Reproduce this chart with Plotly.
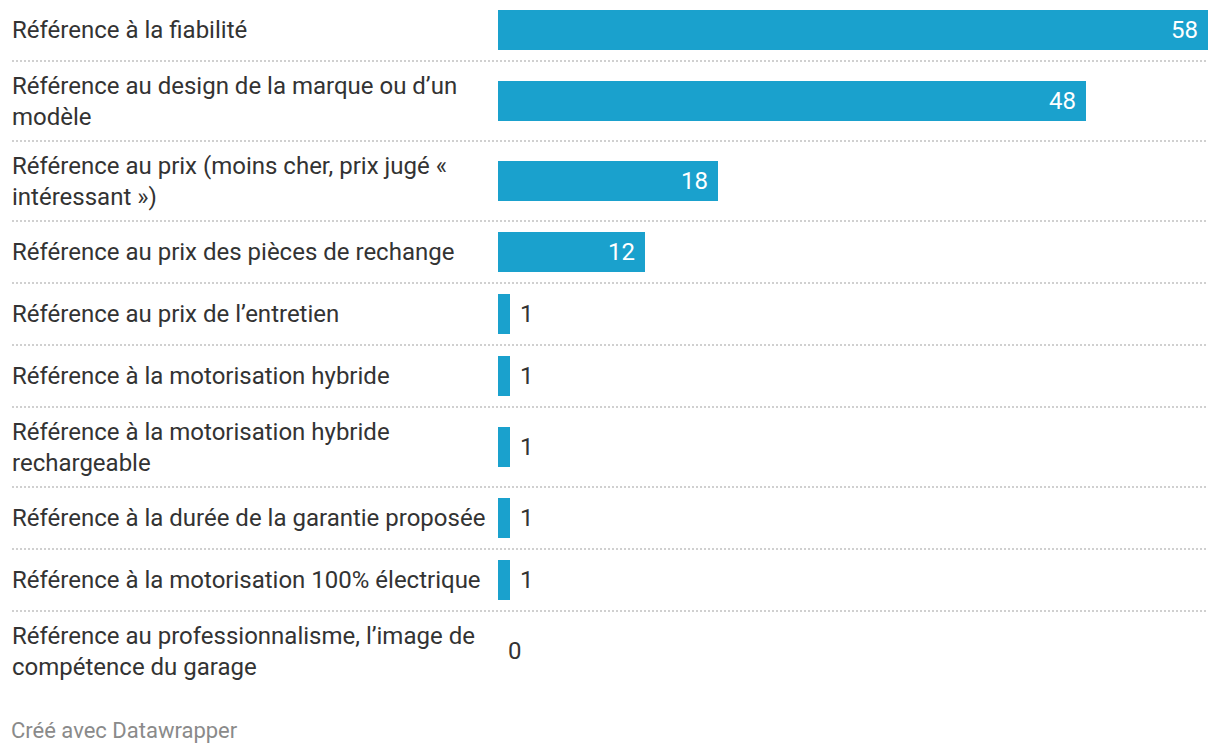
import plotly.graph_objects as go

categories = [
    "Référence à la fiabilité",
    "Référence au design de la marque ou d’un<br>modèle",
    "Référence au prix (moins cher, prix jugé «<br>intéressant »)",
    "Référence au prix des pièces de rechange",
    "Référence au prix de l’entretien",
    "Référence à la motorisation hybride",
    "Référence à la motorisation hybride<br>rechargeable",
    "Référence à la durée de la garantie proposée",
    "Référence à la motorisation 100% électrique",
    "Référence au professionnalisme, l’image de<br>compétence du garage",
]
values = [58, 48, 18, 12, 1, 1, 1, 1, 1, 0]
footer_text = "Créé avec Datawrapper"

# layout constants (pixels, figure coordinates; page body adds an 8px margin)
W, H = 1212, 748
ML, MR = 490, 12
ROW_1LINE, ROW_2LINE = 62, 80
BAR_H = 40
OFF = 9
LABEL_X_PX = 2
SEP_X_PX = 4
FONT = "Roboto, Arial, sans-serif"
BAR_COLOR = "#1aa1cd"
TEXT_COLOR = "#333333"

# row positions derived from label line counts
heights = [ROW_2LINE if "<br>" in c else ROW_1LINE for c in categories]
tops, centers = [], []
acc = 0
for h in heights:
    tops.append(acc)
    centers.append(acc + h / 2)
    acc += h
total = acc
plot_h = total - OFF
MT = 0
MB = H - MT - plot_h
plot_w = W - ML - MR
xmax = max(values)

fig = go.Figure()
fig.add_trace(go.Bar(
    x=values, y=centers, orientation="h", width=BAR_H,
    marker=dict(color=BAR_COLOR, line=dict(width=0)),
    hoverinfo="skip",
))

annotations = []
# category labels
for c, yc in zip(categories, centers):
    annotations.append(dict(
        text=c, xref="paper", x=(LABEL_X_PX - ML) / plot_w, xanchor="left",
        yref="y", y=yc, yanchor="middle", align="left", showarrow=False,
        font=dict(family=FONT, size=24, color=TEXT_COLOR),
    ))
# value labels
for v, yc in zip(values, centers):
    inside = v * plot_w / xmax > 60
    annotations.append(dict(
        text=str(v), xref="x", x=v, yref="y", y=yc, yanchor="middle",
        xanchor="right" if inside else "left", xshift=-8 if inside else 8,
        showarrow=False,
        font=dict(family=FONT, size=24, color="#ffffff" if inside else TEXT_COLOR),
    ))
# footer
annotations.append(dict(
    text=footer_text, xref="paper", x=(1 - ML) / plot_w, xanchor="left",
    yref="paper", y=0, yanchor="top", yshift=-25,
    showarrow=False, font=dict(family=FONT, size=22, color="#8a8a8a"),
))

shapes = []
for t in tops[1:]:
    shapes.append(dict(
        type="line", xref="paper", x0=(SEP_X_PX - ML) / plot_w, x1=1,
        yref="y", y0=t, y1=t,
        line=dict(color="#d0d0d0", width=2, dash="2px,2px"),
    ))

fig.update_layout(
    width=W, height=H,
    margin=dict(l=ML, r=MR, t=MT, b=MB, pad=0),
    paper_bgcolor="white", plot_bgcolor="white",
    showlegend=False,
    xaxis=dict(range=[0, xmax], visible=False, fixedrange=True),
    yaxis=dict(range=[total, OFF], visible=False, fixedrange=True),
    annotations=annotations, shapes=shapes,
    bargap=0,
)

fig.write_html("out.html", config={"displayModeBar": False})
